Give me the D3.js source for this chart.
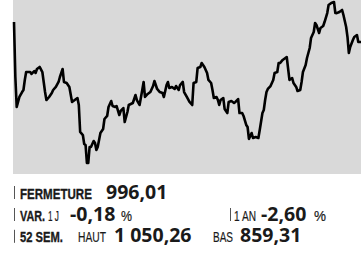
<!DOCTYPE html>
<html><head><meta charset="utf-8">
<script src="https://cdn.jsdelivr.net/npm/d3@7/dist/d3.min.js"></script>
<style>
html,body{margin:0;padding:0;background:#fff;}
svg{display:block;}
</style></head><body>
<svg id="c" width="361" height="254"></svg>
<script>
// Séances (indice de jour de bourse) et clôtures
const seances = [0,1,2,4,6,7,8,9,12,13,15,16,17,19,21,22,23,24,26,28,29,31,33,34,36,37,39,41,
43,45,47,48,49,51,52,53,54,55,56,57,59,60,61,62,64,66,67,69,70,72,73,75,76,78,79,81,82,84,85,
88,90,91,93,95,96,97,99,101,103,104,106,108,110,111,113,114,115,117,119,120,122,123,125,126,128,130,
132,133,135,136,138,139,141,143,144,146,147,148,150,151,152,153,155,156,158,159,161,163,164,166,167,169,170,172,173,174,
176,177,179,181,182,184,185,186,187,188,190,192,193,195,196,197,199,201,202,204,206,207,209,210,212,213,214,216,
217,219,220,222,223,224,226,227,229,230,232,233,235,237,238,239,241,243,244,246,247,248,249,251,252,254,255,257];
const clotures = [1026.5,961.3,925.7,937.6,943.5,945.9,957.8,967.2,967.2,964.9,968.4,966.1,970.8,973.2,967.2,955.4,943.5,934.0,937.6,942.3,945.9,949.5,955.4,961.3,970.8,955.4,954.2,949.5,
931.7,934.0,936.4,928.1,896.1,892.5,881.9,880.7,859.3,859.3,878.3,878.3,885.4,883.0,874.7,878.3,894.9,899.6,911.5,915.1,925.7,932.8,926.9,925.7,926.9,916.2,921.0,924.5,907.9,919.8,928.1,
930.5,940.0,934.0,928.1,945.9,955.4,937.6,941.2,943.5,950.6,956.6,947.1,943.5,942.3,937.6,951.8,955.4,948.3,949.5,947.1,950.6,945.9,951.8,955.4,943.5,937.6,931.7,
928.1,954.2,955.4,972.0,973.2,977.9,973.2,966.1,957.8,954.2,945.9,936.4,937.6,934.0,928.1,934.0,936.4,923.4,918.6,931.7,932.8,930.5,931.7,935.2,918.6,918.6,915.1,904.4,902.0,887.8,
894.9,889.0,890.2,889.0,898.5,918.6,922.2,934.0,943.5,947.1,950.6,957.8,966.1,967.2,977.9,977.9,981.5,983.8,985.0,957.8,960.1,954.2,949.5,944.7,945.9,955.4,967.2,975.5,
983.8,995.7,1007.6,1014.7,1025.4,1023.0,1013.5,1019.4,1021.8,1026.5,1037.2,1046.7,1049.1,1050.26,1037.2,1037.0,1038.4,1040.8,1034.8,1020.6,1008.8,989.8,996.9,1005.2,1008.8,1011.1,1002.8,1002.8];

const premiereSeance = 0, derniereSeance = 257;
const bas52 = 859.31, haut52 = 1050.26;

// Indicateurs
const libFermeture = "FERMETURE", valFermeture = "996,01";
const libVar = "VAR.", lib1j = "1 J", valVar1j = "-0,18";
const lib1an = "1 AN", valVar1an = "-2,60";
const lib52 = "52 SEM.", libHaut = "HAUT", valHaut = "1 050,26", libBas = "BAS", valBas = "859,31";
const pct = "%";

const svg = d3.select("#c");
const plot = {left: 13, top: 0, right: 361, bottom: 174};

svg.append("rect")
  .attr("x", plot.left).attr("y", plot.top)
  .attr("width", plot.right - plot.left).attr("height", plot.bottom - plot.top)
  .attr("fill", "#d9d9d9");

const x = d3.scaleLinear().domain([premiereSeance, derniereSeance]).range([14, 361]);
const y = d3.scaleLinear().domain([bas52, haut52]).range([163, 2]);

const data = seances.map((s, i) => ({s, v: clotures[i]}));
const line = d3.line().x(d => x(d.s)).y(d => y(d.v));

svg.append("path")
  .datum(data)
  .attr("d", line)
  .attr("fill", "none")
  .attr("stroke", "#000")
  .attr("stroke-width", 2.6)
  .attr("stroke-linejoin", "round");

const fLab = "'Liberation Sans','Arial',sans-serif";
const fVal = "'Open Sans','Noto Sans',sans-serif";
const ink = "#1a1a1a";

function bar(xp, base) {
  svg.append("line").attr("x1", xp).attr("x2", xp)
    .attr("y1", base - 12.5).attr("y2", base + 0.5)
    .attr("stroke", "#555").attr("stroke-width", 1);
}
function txt(t, xp, base, kind, len) {
  const e = svg.append("text").attr("fill", ink).text(t);
  if (kind === "lab") e.attr("font-family", fLab).attr("font-weight", 700).attr("font-size", 15)
      .attr("stroke", ink).attr("stroke-width", 0.35);
  else if (kind === "small") e.attr("font-family", fLab).attr("font-weight", 400).attr("font-size", 14)
      .attr("stroke", ink).attr("stroke-width", 0.2);
  else e.attr("font-family", fVal).attr("font-weight", 700).attr("font-size", 19.5);
  let sx = 1;
  if (len) {
    const w = e.node().getComputedTextLength();
    if (w > 0) sx = len / w;
  }
  e.attr("transform", `translate(${xp},${base}) scale(${sx},1)`);
  return e;
}

const r1 = 198.5, r2 = 220.5, r3 = 242.3;
// Row 1
bar(14.5, r1);
txt(libFermeture, 20, r1, "lab", 72);
txt(valFermeture, 106, r1, "val");
// Row 2
bar(14.5, r2);
txt(libVar, 20, r2, "lab", 25);
txt(lib1j, 48, r2, "small", 11);
txt(valVar1j, 70, r2, "val");
txt(pct, 121, r2, "small", 11);
bar(230.5, r2);
txt(lib1an, 234, r2, "small", 22);
txt(valVar1an, 261, r2, "val");
txt(pct, 314, r2, "small", 12);
// Row 3
bar(14.5, r3);
txt(lib52, 20, r3, "lab", 43);
txt(libHaut, 78, r3, "small", 28);
txt(valHaut, 114, r3, "val");
txt(libBas, 213, r3, "small", 20);
txt(valBas, 240, r3, "val");
</script>
</body></html>
